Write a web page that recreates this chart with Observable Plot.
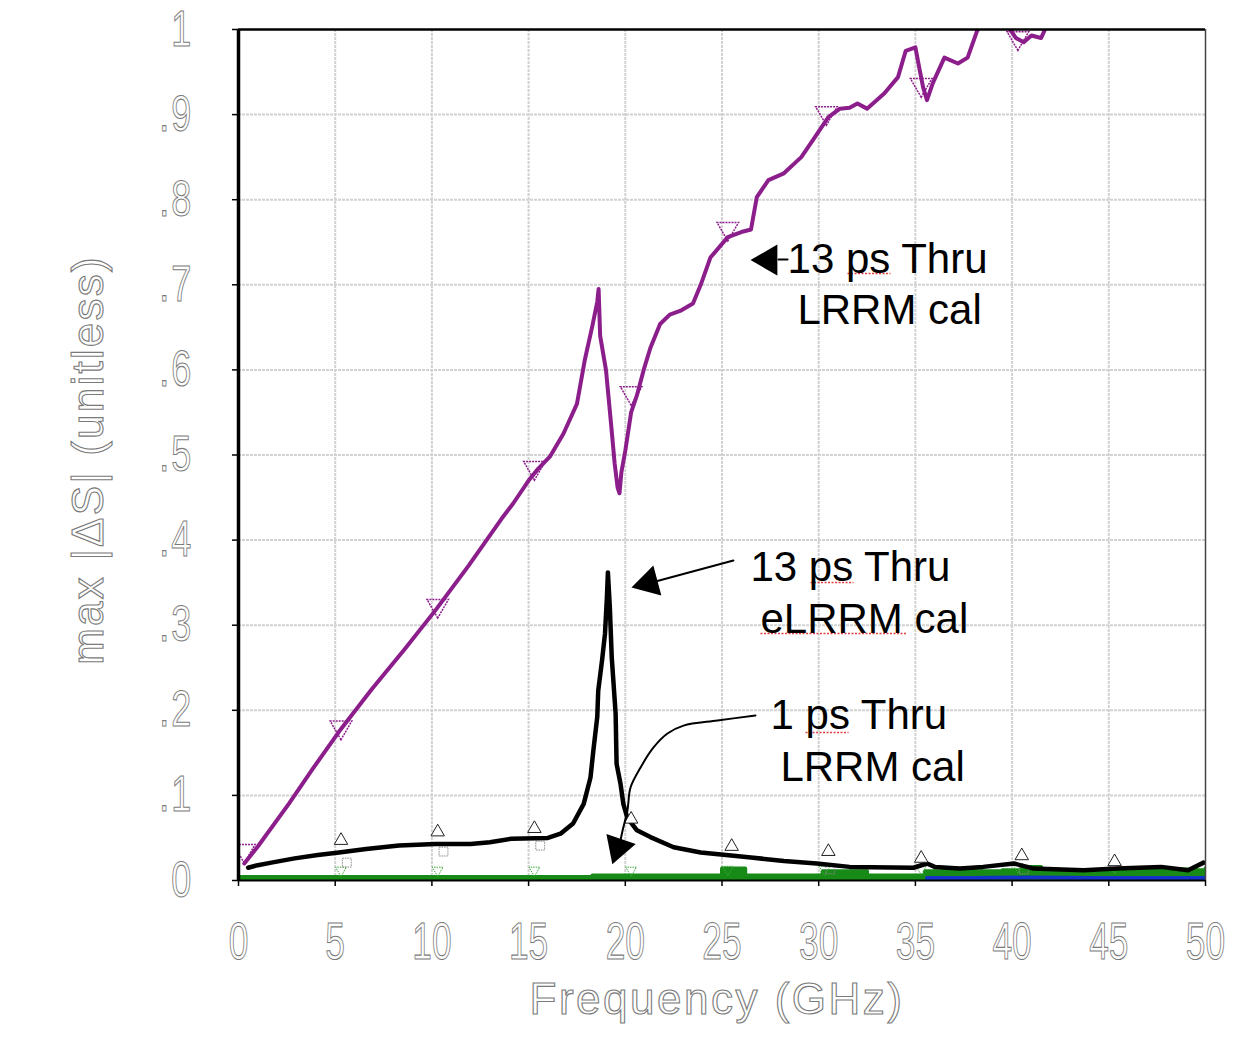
<!DOCTYPE html>
<html><head><meta charset="utf-8">
<script src="https://cdn.jsdelivr.net/npm/d3@7"></script>
<script src="https://cdn.jsdelivr.net/npm/@observablehq/plot@0.6"></script>
<style>body{margin:0;background:#fff} svg{display:block}</style>
</head><body><div id="chart"></div>
<script>
// ---- axes ----
const xTicks = [0,5,10,15,20,25,30,35,40,45,50];
const yTicks = [0,0.1,0.2,0.3,0.4,0.5,0.6,0.7,0.8,0.9,1];
const yTickLabels = ["0",".1",".2",".3",".4",".5",".6",".7",".8",".9","1"];
const xTitle = "Frequency (GHz)";
const yTitle = "max |ΔS| (unitless)";

// ---- 13 ps Thru, LRRM cal (purple) ----
const purpleF = [0.3,1.0,2.6,3.8,5.2,6.9,8.6,10.2,11.9,13.6,14.2,15.0,15.5,16.1,16.8,17.5,17.9,18.3,18.55,18.62,18.7,19.0,19.25,19.45,19.6,19.7,19.8,20.0,20.3,20.6,20.95,21.3,21.8,22.3,22.9,23.5,23.9,24.4,25.3,26.0,26.5,26.8,27.4,28.2,29.1,29.7,30.5,31.1,31.6,32.0,32.5,33.4,34.1,34.5,35.0,35.2,35.4,35.6,35.9,36.5,37.2,37.7,38.2,38.6,39.3,39.9,40.2,40.6,41.0,41.5,41.8,43.0,45.0,48.0,50.0];
const purpleV = [0.02,0.04,0.09,0.13,0.175,0.225,0.272,0.318,0.37,0.425,0.443,0.47,0.484,0.498,0.525,0.56,0.611,0.652,0.68,0.695,0.64,0.60,0.54,0.49,0.462,0.455,0.48,0.505,0.55,0.57,0.60,0.626,0.654,0.665,0.67,0.678,0.70,0.732,0.756,0.762,0.765,0.803,0.823,0.831,0.85,0.87,0.897,0.907,0.908,0.913,0.907,0.925,0.944,0.975,0.979,0.955,0.932,0.917,0.937,0.967,0.96,0.967,0.999,1.01,1.02,1.0,0.99,0.985,0.993,0.99,1.005,1.02,1.04,1.06,1.08];
const purpleMarkF = [0.3,5.3,10.3,15.3,20.3,25.3,30.4,35.3,40.3];
const purpleMarkV = [0.035,0.18,0.323,0.485,0.573,0.766,0.902,0.935,0.99];

// ---- 13 ps Thru, eLRRM cal (black) ----
const blackF = [0.5,1.0,1.7,2.9,4.1,5.2,6.6,8.3,10.2,12.0,13.0,14.1,16.0,16.65,17.3,17.85,18.2,18.35,18.55,18.6,18.8,18.95,19.05,19.1,19.2,19.3,19.5,19.55,19.75,19.9,20.1,20.6,21.3,22.5,23.9,25.6,26.5,28.2,29.9,31.6,34.9,35.6,36.0,37.3,38.5,40.1,41.1,43.7,45.4,47.7,49.1,49.9];
const blackV = [0.015,0.018,0.021,0.026,0.03,0.033,0.037,0.041,0.043,0.043,0.045,0.049,0.05,0.055,0.067,0.09,0.121,0.153,0.192,0.223,0.259,0.29,0.333,0.362,0.321,0.262,0.196,0.137,0.114,0.09,0.074,0.059,0.051,0.039,0.033,0.029,0.027,0.023,0.02,0.016,0.015,0.02,0.016,0.014,0.016,0.02,0.014,0.012,0.014,0.016,0.012,0.021];
const blackMarkF = [5.3,10.3,15.3,20.3,25.5,30.5,35.3,40.5,45.3];
const blackMarkV = [0.047,0.057,0.061,0.072,0.04,0.034,0.026,0.029,0.022];
const hollowMarkF = [5.6,10.6,15.6,30.6,40.6];
const hollowMarkV = [0.021,0.034,0.041,0.013,0.013];

// ---- 1 ps Thru, LRRM cal (green) + blue trace ----
const greenF = [0,18.2,18.3,24.8,25.0,26.0,26.2,30.0,30.2,32.3,32.5,35.0,35.5,36.5,38,39.5,40.5,41.5,43,45,46.5,48,49.5,50];
const greenV = [0.004,0.004,0.006,0.006,0.014,0.014,0.006,0.006,0.011,0.011,0.006,0.006,0.011,0.012,0.011,0.012,0.016,0.011,0.012,0.011,0.012,0.013,0.012,0.014];
const greenMarkF = [5.3,10.3,15.3,20.3,25.3,30.3,35.3,40.3,45.3];
const greenMarkV = [0.012,0.012,0.012,0.012,0.013,0.013,0.014,0.016,0.015];
const blueF = [35.6,38,41,44,47,50];
const blueV = [0.003,0.003,0.0035,0.003,0.003,0.003];

// ---- annotations ----
const annLabels = ["13 ps Thru","LRRM cal","13 ps Thru","eLRRM cal","1 ps Thru","LRRM cal"];
const annF = [28.39,28.90,26.47,26.99,27.51,28.02];
const annV = [0.7302,0.6702,0.3683,0.3072,0.1944,0.1333];
const headF = [27.40,21.21,19.63];
const headV = [0.7291,0.3498,0.0389];
const headRot = [270,255,199];
const shaft1F = [27.92,28.39], shaft1V = [0.7297,0.7297];
const shaft2F = [25.59,21.56], shaft2V = [0.376,0.3513];
const shaft3F = [26.73,24.77,23.01,22.18,21.46,20.79,20.27,20.11,19.86,19.75];
const shaft3V = [0.1939,0.188,0.182,0.1727,0.1563,0.1328,0.1093,0.0823,0.0588,0.047];
// spell-check squiggles under "ps" and "eLRRM"
const squigF1 = [31.49,29.58,26.99,29.32];
const squigF2 = [33.71,31.80,34.59,31.54];
const squigV = [0.7133,0.3502,0.2902,0.1739];

const zip = (F, V) => F.map((f, i) => ({f, v: V[i]}));
const purple = zip(purpleF, purpleV), black = zip(blackF, blackV), green = zip(greenF, greenV), blue = zip(blueF, blueV);
const ann = annLabels.map((t, i) => ({t, f: annF[i], v: annV[i]}));
const heads = headF.map((f, i) => ({f, v: headV[i], r: headRot[i]}));
const squig = squigF1.map((f1, i) => ({f1, f2: squigF2[i], v: squigV[i]}));

const PURPLE = "#8c1e8c", GREEN = "#178a17", BLUE = "#1432c8", GRID = "#d2d2d2";
const FONT = "Liberation Sans, Arial, Helvetica, sans-serif";

const chart = Plot.plot({
  width: 1246, height: 1042,
  marginLeft: 238, marginRight: 41, marginTop: 29, marginBottom: 162,
  x: {domain: [0, 50], axis: null},
  y: {domain: [0, 1], axis: null},
  style: {fontFamily: FONT, background: "white"},
  marks: [
    Plot.ruleX(xTicks.slice(1, -1), {stroke: GRID, strokeWidth: 2, strokeDasharray: "3,1"}),
    Plot.ruleY(yTicks.slice(1, -1), {stroke: GRID, strokeWidth: 2, strokeDasharray: "3,1"}),
    Plot.axisX({ticks: xTicks, tickSize: 6, tickPadding: 36, tickFormat: d => String(d), fontSize: 52, label: null, stroke: "black", strokeWidth: 1.5}),
    Plot.axisY({ticks: yTicks, tickSize: 6, tickPadding: 39, tickFormat: d => yTickLabels[yTicks.indexOf(d)], fontSize: 50, label: null, stroke: "black", strokeWidth: 1.5}),
    // green (1 ps) band
    Plot.areaY(green, {x: "f", y: "v", fill: GREEN, curve: "step-after", clip: true}),
    Plot.line(green, {x: "f", y: "v", stroke: GREEN, strokeWidth: 4, curve: "step-after", clip: true}),
    Plot.line(blue, {x: "f", y: "v", stroke: BLUE, strokeWidth: 4, clip: true}),
    Plot.dot(zip(greenMarkF, greenMarkV), {x: "f", y: "v", symbol: "triangle", rotate: 180, r: 4, stroke: "#3aa83a", strokeWidth: 1, strokeDasharray: "1.5,1", fill: "none"}),
    Plot.dot(zip(hollowMarkF, hollowMarkV), {x: "f", y: "v", symbol: "square", r: 5, stroke: "#888", strokeWidth: 1, strokeDasharray: "1.5,1", fill: "none"}),
    // black (13 ps eLRRM)
    Plot.line(black, {x: "f", y: "v", stroke: "black", strokeWidth: 4.5, clip: true}),
    Plot.dot(zip(blackMarkF, blackMarkV), {x: "f", y: "v", symbol: "triangle", r: 5, stroke: "#222", strokeWidth: 1, fill: "white"}),
    // purple (13 ps LRRM)
    Plot.line(purple, {x: "f", y: "v", stroke: PURPLE, strokeWidth: 4, clip: true}),
    Plot.dot(zip(purpleMarkF, purpleMarkV), {x: "f", y: "v", symbol: "triangle", rotate: 180, r: 8, stroke: PURPLE, strokeWidth: 1.5, strokeDasharray: "2,1", fill: "none", clip: true}),
    // frame
    Plot.ruleY([1], {stroke: "black", strokeWidth: 2.5}),
    Plot.ruleY([0], {stroke: "black", strokeWidth: 2}),
    Plot.ruleX([50], {stroke: "#444", strokeWidth: 1.5}),
    Plot.ruleX([0], {stroke: "black", strokeWidth: 3.5}),
    // titles
    Plot.text([xTitle], {frameAnchor: "bottom", lineAnchor: "middle", textAnchor: "middle", dy: 119, dx: -5, text: d => d, fontSize: 44}),
    Plot.text([yTitle], {frameAnchor: "left", lineAnchor: "middle", textAnchor: "middle", dx: -150, dy: 5, rotate: -90, text: d => d, fontSize: 44}),
    // annotations
    Plot.line(zip(shaft1F, shaft1V), {x: "f", y: "v", stroke: "black", strokeWidth: 2}),
    Plot.line(zip(shaft2F, shaft2V), {x: "f", y: "v", stroke: "black", strokeWidth: 2}),
    Plot.line(zip(shaft3F, shaft3V), {x: "f", y: "v", stroke: "black", strokeWidth: 2, curve: "catmull-rom"}),
    Plot.dot(heads, {x: "f", y: "v", rotate: "r", symbol: "triangle", r: 11.5, fill: "black", stroke: "none"}),
    Plot.link(squig, {x1: "f1", x2: "f2", y1: "v", y2: "v", stroke: "#e23c3c", strokeWidth: 1.5, strokeDasharray: "2,1.5"}),
    Plot.text(ann, {x: "f", y: "v", text: "t", textAnchor: "start", fontSize: 42, fill: "black"})
  ]
});

document.getElementById("chart").appendChild(chart);

// styling of the hollow, condensed axis lettering
function outline(el, sx, spacing) {
  el.setAttribute("fill", "white");
  el.setAttribute("stroke", "#7a7a7a");
  el.setAttribute("stroke-width", "1.1");
  el.style.paintOrder = "normal";
  if (spacing) el.style.letterSpacing = spacing;
  if (sx !== 1) {
    const t = el.getAttribute("transform");
    if (t) el.setAttribute("transform", t + ` scale(${sx},1)`);
    else {
      const x = +el.getAttribute("x") || 0, y = +el.getAttribute("y") || 0;
      el.removeAttribute("x"); el.removeAttribute("y");
      el.setAttribute("transform", `translate(${x},${y}) scale(${sx},1)`);
    }
  }
}
chart.querySelectorAll('g[aria-label="x-axis tick label"] text').forEach(el => outline(el, 0.68));
chart.querySelectorAll('g[aria-label="y-axis tick label"] text').forEach(el => outline(el, 0.72, "3px"));
chart.querySelectorAll("text").forEach(el => {
  const s = el.textContent;
  if (s === xTitle) outline(el, 1, "2.5px");
  else if (s === yTitle) outline(el, 1, "2.2px");
});
</script>
</body></html>
